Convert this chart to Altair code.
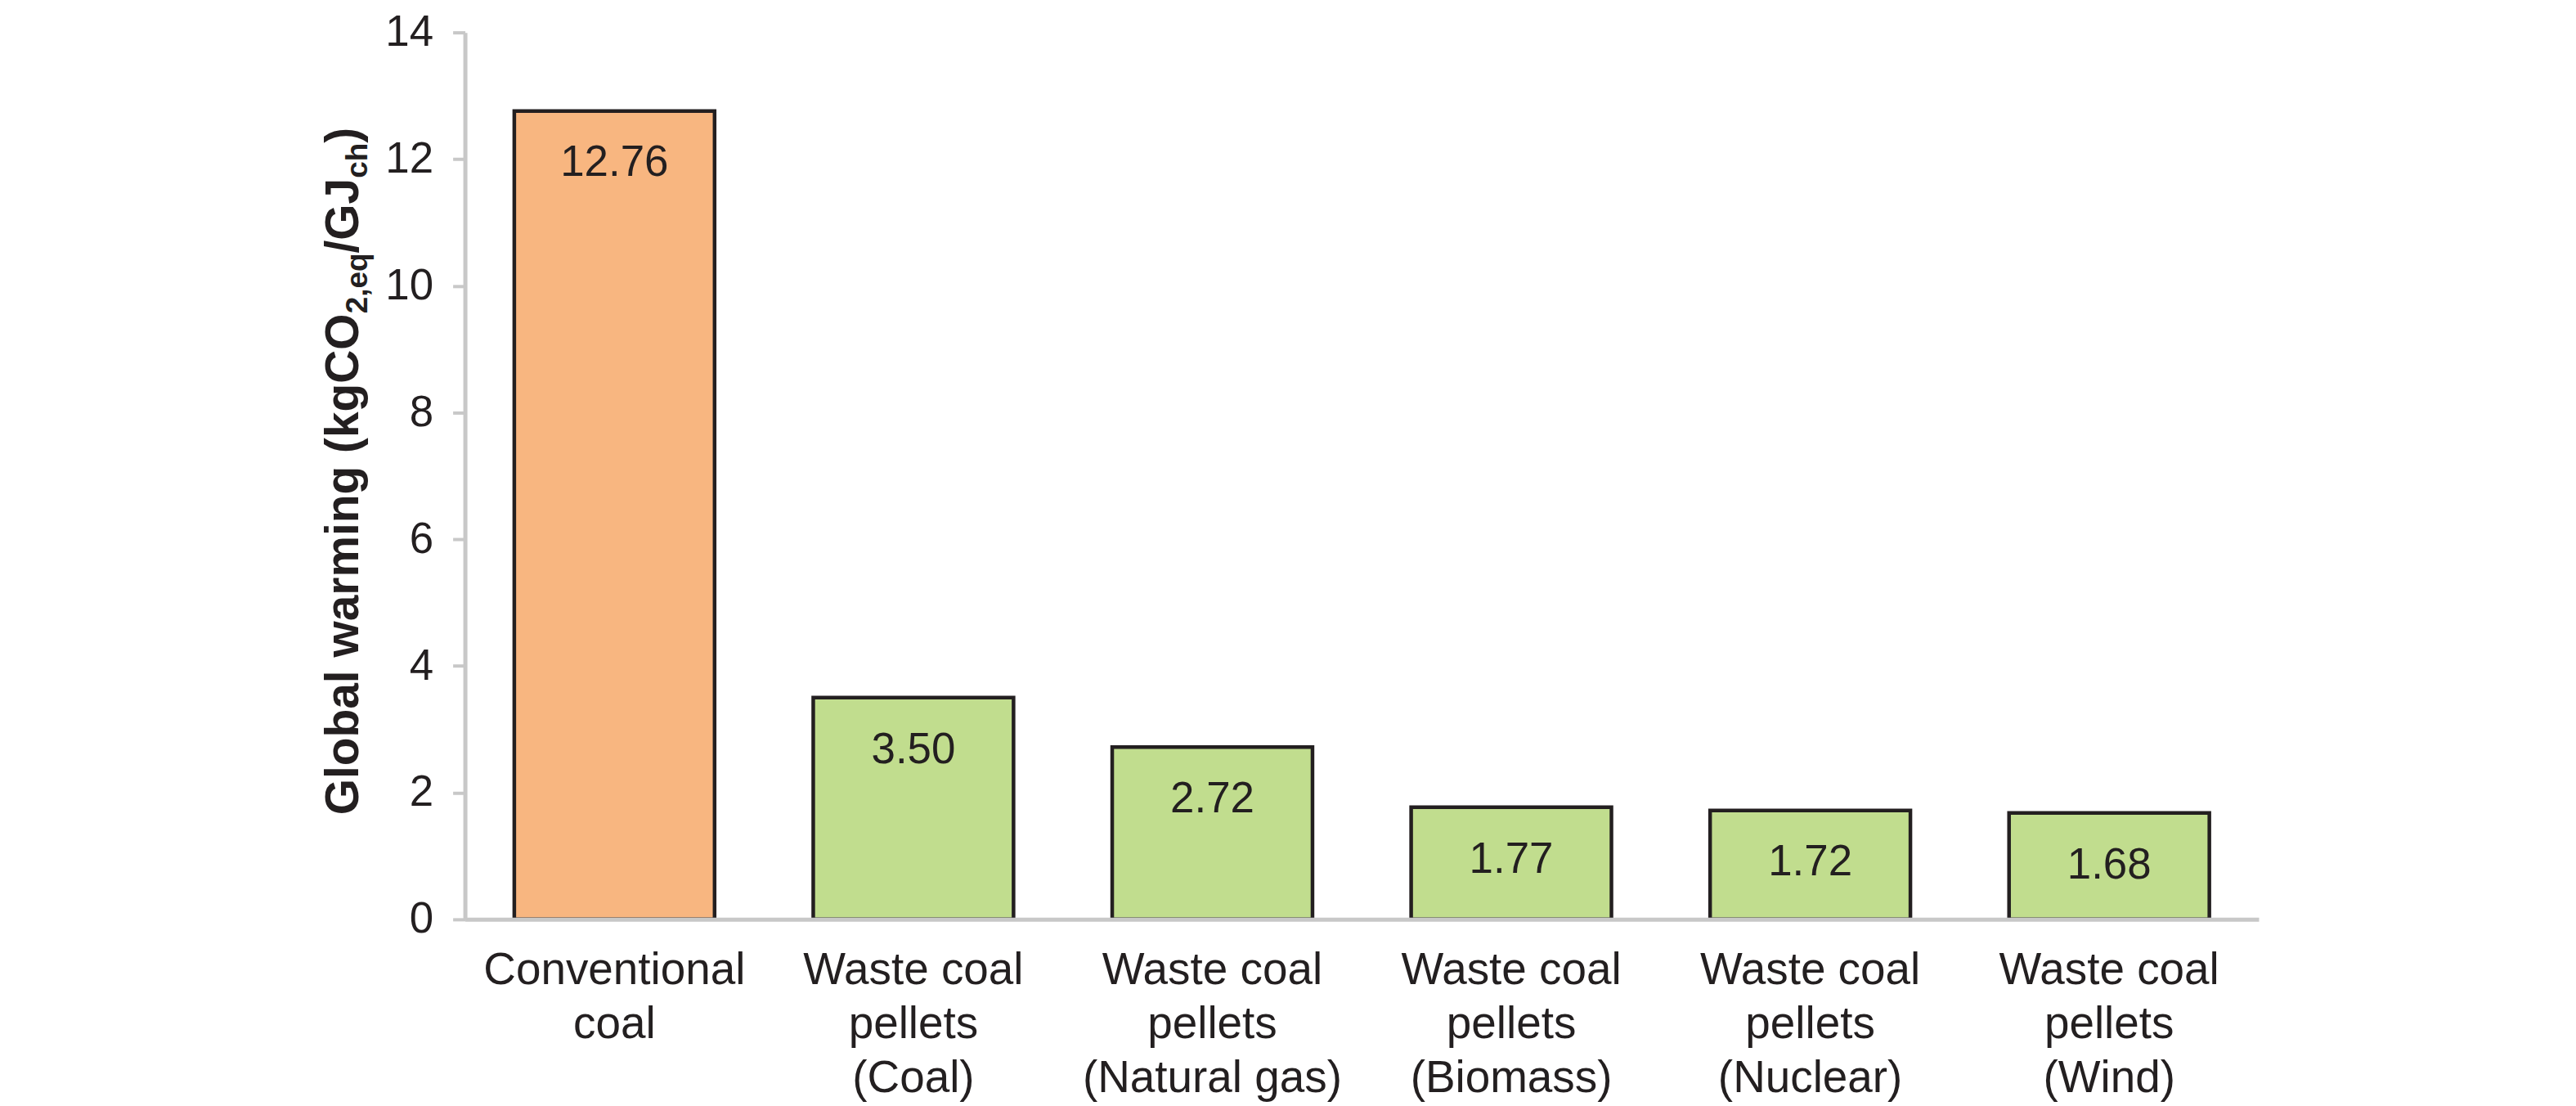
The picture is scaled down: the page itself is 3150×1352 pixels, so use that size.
import altair as alt
import pandas as pd

FONT = "Liberation Sans"
TEXT_COLOR = "#231F20"
AXIS_GRAY = "#C8C8C8"

# ---- data ----
categories = [
    "Conventional|coal",
    "Waste coal|pellets|(Coal)",
    "Waste coal|pellets|(Natural gas)",
    "Waste coal|pellets|(Biomass)",
    "Waste coal|pellets|(Nuclear)",
    "Waste coal|pellets|(Wind)",
]
values = [12.76, 3.50, 2.72, 1.77, 1.72, 1.68]
groups = ["Conventional", "Waste", "Waste", "Waste", "Waste", "Waste"]
value_labels = ["12.76", "3.50", "2.72", "1.77", "1.72", "1.68"]
y_ticks = [0, 2, 4, 6, 8, 10, 12, 14]

group_names = ["Conventional", "Waste"]
group_colors = ["#F8B680", "#C1DD8E"]

# y-axis title pieces (subscripts drawn smaller)
title_segments = ["Global warming (kgCO", "2,eq", "/GJ", "ch", ")"]
title_is_sub = [False, True, False, True, False]

df = pd.DataFrame({"cat": categories, "val": values, "grp": groups, "lab": value_labels})

W, H = 2199, 1087

x_enc = alt.X(
    "cat:N",
    sort=None,
    scale=alt.Scale(paddingInner=0.33, paddingOuter=0.165),
    axis=alt.Axis(
        title=None,
        labelExpr="split(datum.label, '|')",
        labelAngle=0,
        labelFont=FONT,
        labelFontSize=55,
        labelLineHeight=66,
        labelBaseline="top",
        labelPadding=36,
        labelColor=TEXT_COLOR,
        labelLimit=1000,
        labelOverlap=False,
        ticks=False,
        tickSize=0,
        domainColor=AXIS_GRAY,
        domainWidth=5,
        zindex=1,
    ),
)
y_enc = alt.Y(
    "val:Q",
    scale=alt.Scale(domain=[0, 14], nice=False),
    axis=alt.Axis(
        title=None,
        values=y_ticks,
        format="d",
        grid=False,
        labelFont=FONT,
        labelFontSize=53,
        labelColor=TEXT_COLOR,
        labelPadding=24,
        tickColor=AXIS_GRAY,
        tickWidth=4,
        tickSize=15,
        domainColor=AXIS_GRAY,
        domainWidth=5,
        zindex=1,
    ),
)

bars = alt.Chart(df).mark_bar(stroke=TEXT_COLOR, strokeWidth=4.5).encode(
    x=x_enc,
    y=y_enc,
    color=alt.Color("grp:N", scale=alt.Scale(domain=group_names, range=group_colors), legend=None),
)

labels = alt.Chart(df).mark_text(
    dy=80, baseline="alphabetic", font=FONT, fontSize=53, color=TEXT_COLOR
).encode(x=alt.X("cat:N", sort=None), y="val:Q", text="lab:N")

# ---- rotated y title built from pieces (Arial-Bold advance widths, per 1000 em) ----
ADV = {"G": 778, "l": 278, "o": 611, "b": 611, "a": 556, " ": 278, "w": 778, "r": 389,
       "m": 889, "i": 278, "n": 611, "g": 611, "(": 333, "k": 556, "C": 722, "O": 778,
       "/": 278, "J": 556, ")": 333, "2": 556, ",": 278, "e": 556, "q": 611, "c": 556, "h": 611}
MAIN_SIZE, SUB_SIZE = 57, 37
MAIN_X, SUB_X = -131, -120
start_y = 959

title_layers = []
cur = start_y
for seg, sub in zip(title_segments, title_is_sub):
    size = SUB_SIZE if sub else MAIN_SIZE
    layer = alt.Chart(pd.DataFrame({"t": [seg]})).mark_text(
        angle=270, align="left", baseline="alphabetic", font=FONT,
        fontSize=size, fontWeight="bold", color=TEXT_COLOR,
    ).encode(x=alt.value(SUB_X if sub else MAIN_X), y=alt.value(cur), text="t:N")
    title_layers.append(layer)
    cur -= sum(ADV[ch] for ch in seg) / 1000 * size

chart = alt.layer(bars, labels, *title_layers).properties(
    width=W,
    height=H,
    autosize=alt.AutoSizeParams(type="none"),
    padding={"left": 562, "top": 30, "right": 381, "bottom": 227},
    background="white",
).configure(font=FONT).configure_view(strokeWidth=0, strokeOpacity=0)

chart.save("out.html", embed_options={"renderer": "svg", "actions": False})
